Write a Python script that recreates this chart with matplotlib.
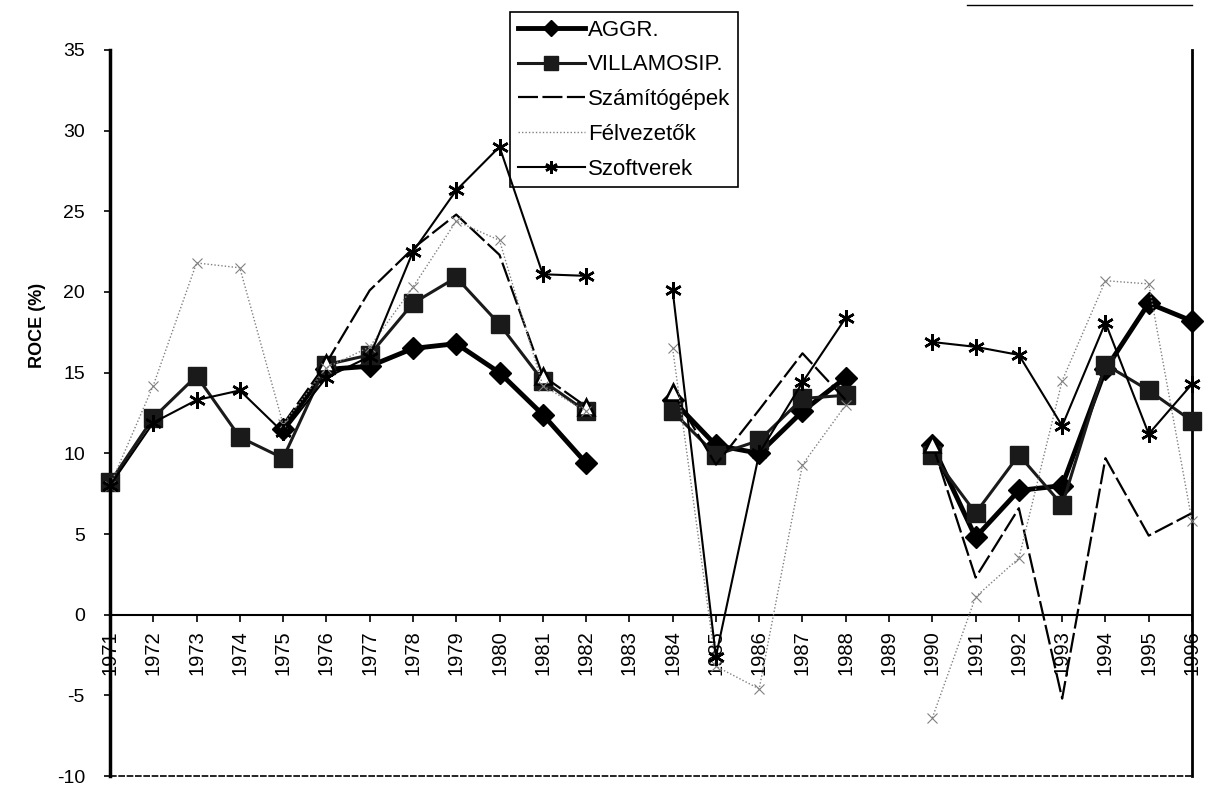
import numpy as np
import matplotlib.pyplot as plt
from matplotlib.lines import Line2D

plt.rcParams['font.family'] = ['Liberation Sans', 'DejaVu Sans']
plt.rcParams['axes.unicode_minus'] = False

nan = np.nan
years = list(range(1971, 1997))

# ROCE (%) by sector, gaps where no data
aggr = [nan, nan, nan, nan, 11.5, 15.2, 15.4, 16.5, 16.8, 15.0, 12.4, 9.4, nan,
        13.3, 10.5, 10.0, 12.6, 14.7, nan, 10.5, 4.8, 7.7, 8.0, 15.2, 19.3, 18.2]
villamosip = [8.2, 12.2, 14.8, 11.0, 9.7, 15.5, 16.1, 19.3, 20.9, 18.0, 14.5, 12.6, nan,
              12.6, 9.9, 10.8, 13.4, 13.6, nan, 9.9, 6.3, 9.9, 6.8, 15.5, 13.9, 12.0]
szamitogepek = [nan, nan, nan, nan, 11.8, 15.6, 20.1, 22.7, 24.8, 22.3, 14.8, 12.9, nan,
                13.8, 9.3, 12.7, 16.2, 13.3, nan, 10.6, 2.3, 6.6, -5.2, 9.7, 4.9, 6.3]
felvezetok = [8.0, 14.2, 21.8, 21.5, 11.8, 15.3, 16.6, 20.3, 24.4, 23.2, 14.2, 12.6, nan,
              16.5, -3.2, -4.6, 9.3, 13.0, nan, -6.4, 1.1, 3.5, 14.5, 20.7, 20.5, 5.8]
szoftverek = [8.0, 11.9, 13.3, 13.9, 11.3, 14.7, 16.0, 22.5, 26.3, 29.0, 21.1, 21.0, nan,
              20.1, -2.6, 10.0, 14.4, 18.4, nan, 16.9, 16.6, 16.1, 11.7, 18.1, 11.2, 14.3]
# points of the computer series that carry an open triangle
szam_marked = [5, 10, 11, 13, 19]

fig = plt.figure(figsize=(12.06, 7.86), dpi=100)
ax = fig.add_axes([0.0912, 0.0127, 0.8972, 0.9237])

ax.plot(years, aggr, color='black', lw=3.5, marker='D', ms=11,
        label='AGGR.', zorder=3, clip_on=False)
ax.plot(years, villamosip, color='#1a1a1a', lw=2.2, marker='s', ms=13,
        label='VILLAMOSIP.', zorder=3, clip_on=False)
ax.plot(years, szamitogepek, color='black', lw=1.6, dashes=(9, 2),
        label='Számítógépek', zorder=4, clip_on=False)
ax.plot(years, szamitogepek, ls='none', marker='^', ms=11, mfc='white',
        mec='black', mew=1.8, markevery=szam_marked, zorder=4, clip_on=False)
ax.plot(years, felvezetok, color='#808080', lw=1, ls=(0, (1, 1.5)),
        label='Félvezetők', zorder=5, clip_on=False)
ax.plot(years, felvezetok, ls='none', marker='x', ms=7, mec='#808080',
        mew=0.8, zorder=5, clip_on=False)
ax.plot(years, szoftverek, color='black', lw=1.5, marker=(6, 2, 0), ms=12,
        mew=1.8, mec='black', label='Szoftverek', zorder=6, clip_on=False)

# the category axis crosses at zero; set this before the tick styling
ax.spines['bottom'].set_position(('data', 0))
ax.spines['bottom'].set_linewidth(1.5)
ax.spines['top'].set_visible(False)
ax.spines['left'].set_linewidth(2.5)
ax.spines['right'].set_linewidth(2)
ax.axhline(-10, color='black', lw=1.2, ls=(0, (4, 1)), clip_on=False)

ax.set_xlim(1971, 1996)
ax.set_ylim(-10, 35)
ax.set_xticks(years)
ax.set_xticklabels([str(y) for y in years], rotation=90, fontsize=14.5)
ax.set_yticks(range(-10, 36, 5))
ax.tick_params(axis='x', direction='out', length=5, width=1.2, pad=6)
ax.tick_params(axis='y', direction='out', length=4, width=1.2, labelsize=14, pad=14)

ax.set_ylabel('ROCE (%)', fontsize=13, fontweight='bold')
ax.yaxis.set_label_coords(-0.059, 0.62)

leg = ax.legend(loc='upper left', bbox_to_anchor=(0.423, 0.985),
                bbox_transform=fig.transFigure, fancybox=False,
                edgecolor='black', fontsize=16, handlelength=3.0,
                handletextpad=0.15, labelspacing=0.62, borderpad=0.35,
                borderaxespad=0, framealpha=1, markerscale=0.75)
leg.get_frame().set_linewidth(1.2)

# chart frame fragment at the top right
fig.add_artist(Line2D([0.802, 0.9884], [0.9936, 0.9936],
                      transform=fig.transFigure, color='black', lw=1))

fig.savefig('out.png', dpi=100)
